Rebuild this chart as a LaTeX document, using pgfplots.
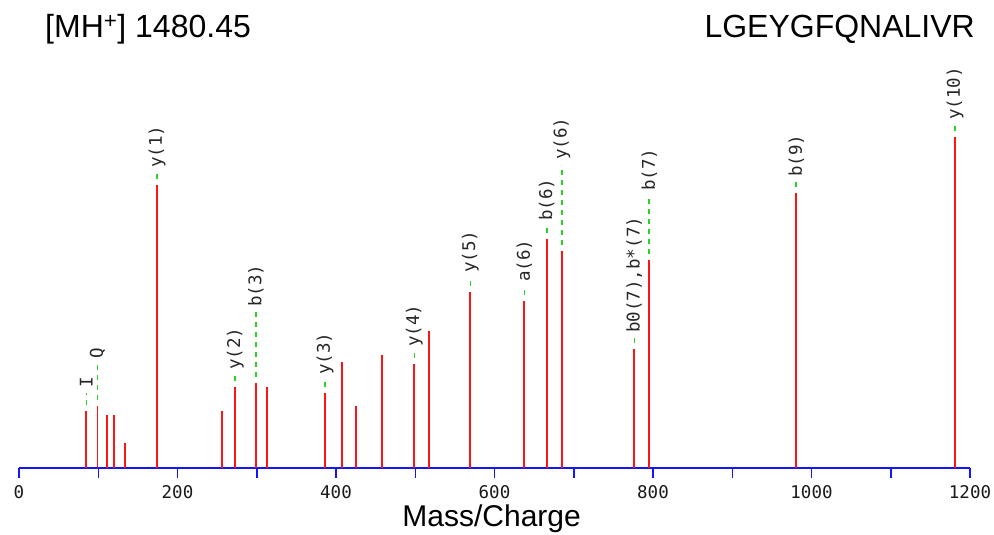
\documentclass[border=0pt]{standalone}
\usepackage{fontspec}
\setmainfont{Liberation Sans}
\newfontfamily\monofont{DejaVu Sans Mono}
\usepackage{pgfplots}
\usepackage{pgfplotstable}
\pgfplotsset{compat=1.18}
\definecolor{peakred}{RGB}{255,20,20}
\definecolor{axblue}{RGB}{20,20,255}
\definecolor{lblgreen}{RGB}{40,210,40}

\pgfplotstableread{
x h
85 57
99 62
110.7 53
119.9 53
134.1 25
174.1 283
256.5 57
272.9 81
299 85
312.9 81
386.1 75
407.2 106
425.6 62
458.4 113
498.8 104
517.7 137
569.5 176
637.6 167
665.9 229
684.8 217
776.4 119
795.3 208
980.8 275
1181.1 331
}\peaks

\pgfplotstableread{
x h ly lab
85 57 80 I
99 62 109 Q
174.1 283 300 y(1)
272.9 81 98 y(2)
299 85 161 b(3)
386.1 75 93 y(3)
498.8 104 121 y(4)
569.5 176 195 y(5)
637.6 167 186 a(6)
665.9 229 247 b(6)
684.8 217 308 y(6)
776.4 119 135 b0(7),b*(7)
795.3 208 277 b(7)
980.8 275 291 b(9)
1181.1 331 348 y(10)
}\labs

\begin{document}
\begin{tikzpicture}
\path[use as bounding box] (0,0) rectangle (994pt,535pt);
\node[anchor=base west, inner sep=0pt, font=\fontsize{32}{36}\selectfont] at (45pt,497.5pt) {[MH\textsuperscript{+}] 1480.45};
\node[anchor=base east, inner sep=0pt, font=\fontsize{32}{36}\selectfont] at (975pt,497pt) {LGEYGFQNALIVR};
\begin{axis}[
  at={(19pt,67pt)}, anchor=south west,
  scale only axis, width=951pt, height=400pt,
  xmin=0, xmax=1200, ymin=0, ymax=400,
  clip=false,
  axis y line=none,
  axis x line*=bottom,
  x axis line style={axblue, line width=1.8pt},
  xtick={0,100,...,1200},
  xticklabels={0,,200,,400,,600,,800,,1000,,1200},
  tick align=outside,
  major tick length=10pt,
  xtick style={axblue, line width=1.5pt},
  xticklabel style={font=\monofont\fontsize{17.5}{18}\selectfont, text=black!90, anchor=base, yshift=-21pt},
  xlabel={Mass/Charge},
  xlabel style={font=\fontsize{30}{34}\selectfont, at={(rel axis cs:0.497,0)}, anchor=base, yshift=-59pt},
]
\addplot[ycomb, peakred, line width=1.9pt, mark=none] table[x=x, y=h] {\peaks};
\addplot[lblgreen, line width=1.6pt, dash pattern=on 5pt off 5pt, mark=none,
  quiver={u=0, v=\thisrow{ly}-\thisrow{h}-11}]
  table[x=x, y expr=\thisrow{h}+6] {\labs};
\addplot[only marks, mark=none, point meta=explicit symbolic,
  nodes near coords,
  nodes near coords style={rotate=90, anchor=west, inner sep=0pt, text=black!85, font=\monofont\fontsize{17.5}{18}\selectfont}]
  table[x=x, y=ly, meta=lab] {\labs};
\end{axis}
\end{tikzpicture}
\end{document}
